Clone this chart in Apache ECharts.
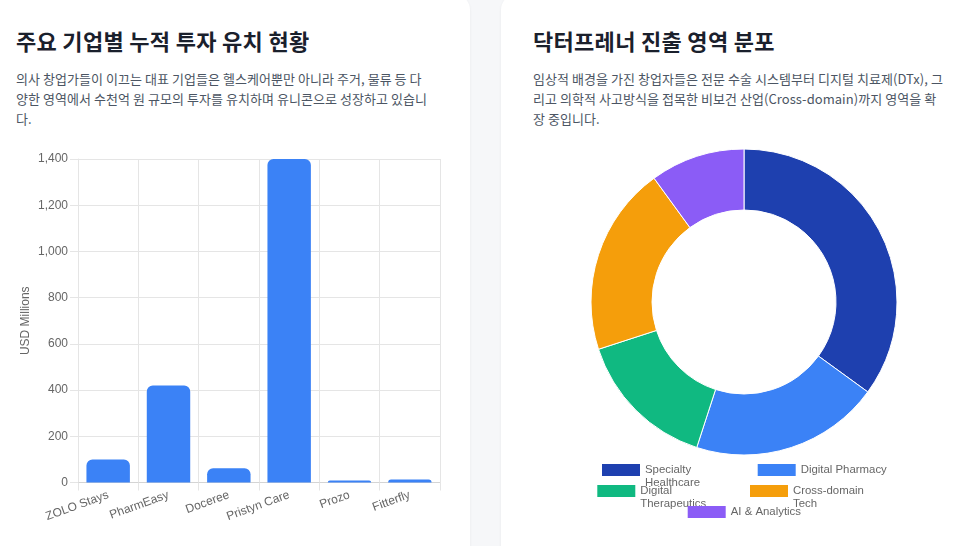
<!DOCTYPE html>
<html>
<head>
<meta charset="utf-8">
<script src="https://cdn.jsdelivr.net/npm/echarts@6/dist/echarts.min.js"></script>
<style>
  body { margin: 0; width: 975px; height: 546px; overflow: hidden; background: #f6f7f9; position: relative; font-family: 'Noto Sans CJK KR', sans-serif; }
  .card { position: absolute; top: -6px; width: 486px; height: 600px; background: #fff; border-radius: 16px; box-shadow: 0 1px 3px rgba(15, 23, 42, 0.06); }
  h2 { position: absolute; margin: 0; font-size: 22px; line-height: 22px; font-weight: 700; color: #1a202c; letter-spacing: 0.3px; white-space: nowrap; }
  p { position: absolute; margin: 0; font-size: 13px; line-height: 20px; color: #4b5563; letter-spacing: 0.05px; white-space: nowrap; }
  .chart { position: absolute; }
</style>
</head>
<body>
<div class="card" style="left:-16px"></div>
<div class="card" style="left:501px"></div>

<h2 style="left:16px;top:29px">주요 기업별 누적 투자 유치 현황</h2>
<p style="left:16px;top:69px">의사 창업가들이 이끄는 대표 기업들은 헬스케어뿐만 아니라 주거, 물류 등 다<br>양한 영역에서 수천억 원 규모의 투자를 유치하며 유니콘으로 성장하고 있습니<br>다.</p>

<h2 style="left:533px;top:29px">닥터프레너 진출 영역 분포</h2>
<p style="left:533px;top:69px">임상적 배경을 가진 창업자들은 전문 수술 시스템부터 디지털 치료제(DTx), 그<br>리고 의학적 사고방식을 접목한 비보건 산업(Cross-domain)까지 영역을 확<br>장 중입니다.</p>

<div id="bar" class="chart" style="left:0;top:140px;width:470px;height:406px"></div>
<div id="donut" class="chart" style="left:501px;top:140px;width:474px;height:406px"></div>

<script>
// funding per company (USD millions)
var companies = ['ZOLO Stays', 'PharmEasy', 'Doceree', 'Pristyn Care', 'Prozo', 'Fitterfly'];
var investment = [100, 420, 62, 1400, 9, 13];

// share of doctorpreneur sectors (%)
var sectors = ['Specialty Healthcare', 'Digital Pharmacy', 'Digital Therapeutics', 'Cross-domain Tech', 'AI & Analytics'];
var sectorShare = [35, 20, 15, 20, 10];

var sectorColors = ['#1e40af', '#3b82f6', '#10b981', '#f59e0b', '#8b5cf6'];
var labelFont = "'Liberation Sans', Arial, sans-serif";
var gridColor = '#e5e5e5';

var barChart = echarts.init(document.getElementById('bar'));
barChart.setOption({
  animation: false,
  grid: { left: 78, right: 30, top: 19, bottom: 63.5 },
  xAxis: {
    type: 'category',
    data: companies,
    axisLine: { lineStyle: { color: '#d4d4d4' } },
    axisTick: { show: true, length: 8, lineStyle: { color: gridColor } },
    splitLine: { show: true, lineStyle: { color: gridColor } },
    axisLabel: { rotate: 20, margin: 12, interval: 0, color: '#666', fontSize: 12, fontFamily: labelFont }
  },
  yAxis: {
    type: 'value',
    min: 0,
    max: 1400,
    interval: 200,
    name: 'USD Millions',
    nameLocation: 'middle',
    nameGap: 46,
    nameMoveOverlap: false,
    nameTextStyle: { color: '#666', fontSize: 12, fontFamily: labelFont },
    axisLine: { show: true, lineStyle: { color: gridColor } },
    axisTick: { show: true, length: 8, lineStyle: { color: gridColor } },
    splitLine: { lineStyle: { color: gridColor } },
    axisLabel: {
      margin: 10, color: '#666', fontSize: 12, fontFamily: labelFont,
      formatter: function (v) { return v.toLocaleString('en-US'); }
    }
  },
  series: [{
    type: 'bar',
    data: investment,
    barWidth: '72%',
    itemStyle: { color: '#3b82f6', borderRadius: [6, 6, 0, 0] }
  }]
});

// legend names that wrap onto a second line; the blank first line keeps
// the first word level with the colour box
var wrapped = {
  'Specialty Healthcare': ' \nSpecialty\nHealthcare',
  'Digital Therapeutics': ' \nDigital\nTherapeutics',
  'Cross-domain Tech': ' \nCross-domain\nTech'
};
// [left, top] of each legend entry inside the donut box
var legendSpots = [[101, 310.5], [256.7, 323.5], [96.3, 331.5], [249, 331.5], [186.7, 365.5]];

var legends = [];
for (var i = 0; i < sectors.length; i++) {
  legends.push({
    data: [sectors[i]],
    left: legendSpots[i][0],
    top: legendSpots[i][1],
    padding: 0,
    icon: 'rect',
    itemWidth: 38,
    itemHeight: 12,
    selectedMode: false,
    itemStyle: { borderWidth: 0 },
    formatter: function (name) { return wrapped[name] || name; },
    textStyle: { color: '#666', fontSize: 11.4, fontFamily: labelFont, lineHeight: 13 }
  });
}

var donutChart = echarts.init(document.getElementById('donut'));
donutChart.setOption({
  animation: false,
  color: sectorColors,
  legend: legends,
  series: [{
    type: 'pie',
    radius: [92, 153],
    center: [243, 162],
    startAngle: 90,
    clockwise: true,
    label: { show: false },
    labelLine: { show: false },
    itemStyle: { borderColor: '#fff', borderWidth: 1 },
    data: sectors.map(function (n, k) { return { name: n, value: sectorShare[k] }; })
  }]
});
</script>
</body>
</html>
